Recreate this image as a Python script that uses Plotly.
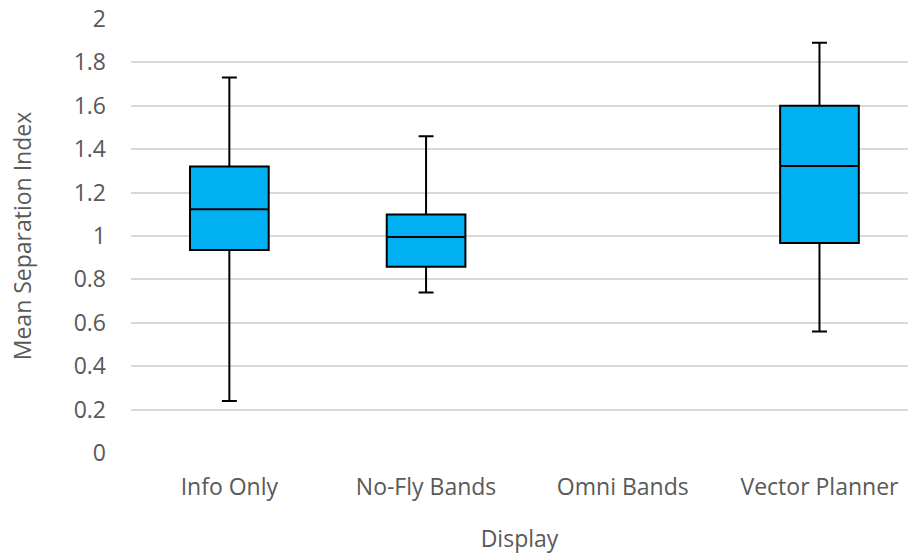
import plotly.graph_objects as go

categories = ["Info Only", "No-Fly Bands", "Omni Bands", "Vector Planner"]
box_categories = ["Info Only", "No-Fly Bands", "Vector Planner"]
lower_whisker = [0.24, 0.74, 0.56]
q1_values = [0.935, 0.858, 0.968]
median_values = [1.123, 0.995, 1.323]
q3_values = [1.320, 1.099, 1.600]
upper_whisker = [1.730, 1.460, 1.890]
y_ticks = [0, 0.2, 0.4, 0.6, 0.8, 1, 1.2, 1.4, 1.6, 1.8, 2]
y_tick_text = ["0", "0.2", "0.4", "0.6", "0.8", "1", "1.2", "1.4", "1.6", "1.8", "2"]

font_family = "Open Sans, Liberation Sans, sans-serif"
text_color = "#595959"

fig = go.Figure()
fig.add_trace(go.Box(
    x=box_categories,
    q1=q1_values,
    median=median_values,
    q3=q3_values,
    lowerfence=lower_whisker,
    upperfence=upper_whisker,
    fillcolor="#00B0F0",
    line=dict(color="black", width=2),
    width=0.4,
    whiskerwidth=0.19,
    boxpoints=False,
    showlegend=False,
    hoverinfo="skip",
))

fig.update_layout(
    width=909,
    height=554,
    paper_bgcolor="white",
    plot_bgcolor="white",
    margin=dict(l=131, r=1, t=19, b=101, autoexpand=False),
    font=dict(family=font_family, color=text_color, size=23),
    xaxis=dict(
        type="category",
        categoryorder="array",
        categoryarray=categories,
        range=[-0.5, 3.45],
        showgrid=False,
        showline=False,
        zeroline=False,
        ticks="",
        ticklabelstandoff=18,
        tickfont=dict(size=23, color=text_color),
        automargin=False,
        title=dict(text="Display", font=dict(size=23, color=text_color), standoff=31),
    ),
    yaxis=dict(
        range=[0, 2],
        tickvals=y_ticks,
        ticktext=y_tick_text,
        showgrid=True,
        gridcolor="#d9d9d9",
        gridwidth=1.5,
        zeroline=False,
        showline=False,
        ticks="",
        ticklabelstandoff=24,
        ticklabeloverflow="allow",
        tickfont=dict(size=23, color=text_color),
        automargin=False,
        title=dict(text="Mean Separation Index", font=dict(size=23, color=text_color), standoff=35),
    ),
)

fig.write_html(
    "out.html",
    config={"displayModeBar": False},
    post_script="document.body.style.margin='0';document.body.style.overflow='hidden';",
)
